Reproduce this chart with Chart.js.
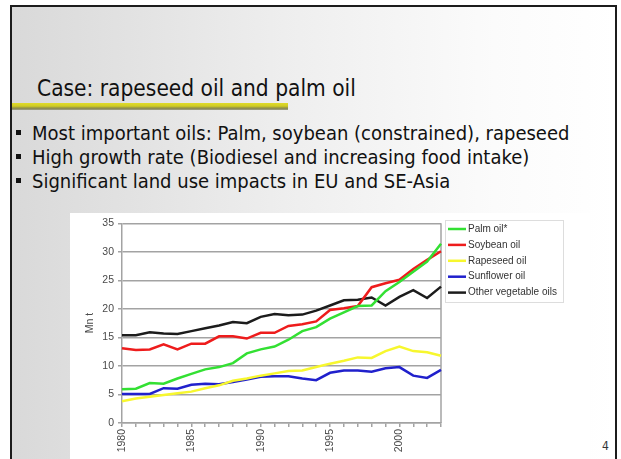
<!DOCTYPE html>
<html>
<head>
<meta charset="utf-8">
<script src="https://cdn.jsdelivr.net/npm/chart.js@4/dist/chart.umd.min.js"></script>
<style>
    html, body { margin: 0; padding: 0; background: #fff; }
    body { width: 621px; height: 459px; position: relative; overflow: hidden; }
    .slide {
        position: absolute; left: 10px; top: 5px; width: 603px; height: 460px;
        border: 2px solid #1c1c1c;
        background: linear-gradient(to right, #d9d9d9 0%, #eeeeee 45%, #fbfbfb 80%, #ffffff 100%);
        font-family: "DejaVu Sans Condensed", "DejaVu Sans", sans-serif;
        color: #111;
    }
    .title { position: absolute; left: 25px; top: 68px; font-size: 22.5px; white-space: nowrap; }
    .bar {
        position: absolute; left: 0; top: 96px; width: 276px; height: 7px;
        background: linear-gradient(to bottom, #e0dc2a 0%, #cfcb25 45%, #8a8a4a 75%, #9fa08c 100%);
    }
    .bullet { position: absolute; left: 20px; font-size: 20px; white-space: nowrap; }
    .bullet:before {
        content: ""; position: absolute; left: -16px; top: 9px; width: 5px; height: 5px; background: #111;
    }
    .pagenum { position: absolute; left: 590px; top: 432px; font-size: 12px; color: #333; }
    #chartWrap { position: absolute; left: 70px; top: 213px; width: 520px; height: 246px; background: #fff; }
</style>
</head>
<body>
<div class="slide">
    <div class="title">Case: rapeseed oil and palm oil</div>
    <div class="bar"></div>
    <div class="bullet" style="top: 114px;">Most important oils: Palm, soybean (constrained), rapeseed</div>
    <div class="bullet" style="top: 138px;">High growth rate (Biodiesel and increasing food intake)</div>
    <div class="bullet" style="top: 162px;">Significant land use impacts in EU and SE-Asia</div>
    <div class="pagenum">4</div>
</div>
<div id="chartWrap"><canvas id="oilChart" width="520" height="246"></canvas></div>

<script>
// Production of vegetable oils, Mn t
const years = ['1980', '1981', '1982', '1983', '1984', '1985', '1986', '1987', '1988', '1989', '1990', '1991',
               '1992', '1993', '1994', '1995', '1996', '1997', '1998', '1999', '2000', '2001', '2002', '2003'];

const palmOil      = [5.9, 6.0, 7.0, 6.9, 7.8, 8.6, 9.4, 9.8, 10.5, 12.2, 12.9, 13.4,
                      14.6, 16.1, 16.8, 18.3, 19.4, 20.5, 20.6, 23.1, 24.7, 26.5, 28.3, 31.4];
const soybeanOil   = [13.1, 12.8, 12.9, 13.8, 12.9, 13.9, 13.9, 15.2, 15.2, 14.8, 15.8, 15.8,
                      17.0, 17.3, 17.8, 19.8, 20.1, 20.5, 23.8, 24.5, 25.1, 27.0, 28.6, 30.1];
const rapeseedOil  = [3.8, 4.3, 4.6, 4.9, 5.2, 5.5, 6.1, 6.6, 7.4, 7.8, 8.3, 8.7,
                      9.1, 9.2, 9.8, 10.4, 10.9, 11.5, 11.4, 12.6, 13.4, 12.6, 12.4, 11.8];
const sunflowerOil = [5.1, 5.1, 5.1, 6.1, 6.0, 6.7, 6.9, 6.8, 7.2, 7.6, 8.1, 8.2,
                      8.2, 7.8, 7.5, 8.8, 9.2, 9.2, 9.0, 9.6, 9.8, 8.3, 7.9, 9.3];
const otherOils    = [15.4, 15.4, 15.9, 15.7, 15.6, 16.1, 16.6, 17.1, 17.7, 17.5, 18.6, 19.1,
                      18.9, 19.0, 19.7, 20.6, 21.5, 21.6, 22.0, 20.6, 22.1, 23.3, 21.9, 23.9];

const seriesNames  = ['Palm oil*', 'Soybean oil', 'Rapeseed oil', 'Sunflower oil', 'Other vegetable oils'];
const seriesColors = ['#33e033', '#ee1c1c', '#f7f72e', '#2020cc', '#1c1c1c'];
const yMin = 0, yMax = 35, yStep = 5;

const axisGrey = '#a3a3a3';
const tickFont = { family: '"Liberation Sans", Arial, sans-serif', size: 10.5 };

// thin frame on the right side of the plot area
const plotFrame = {
    id: 'plotFrame',
    beforeDatasetsDraw: function(chart) {
        const a = chart.chartArea, ctx = chart.ctx;
        ctx.save();
        ctx.strokeStyle = axisGrey;
        ctx.lineWidth = 1.5;
        ctx.beginPath();
        ctx.moveTo(a.right, a.top);
        ctx.lineTo(a.right, a.bottom);
        ctx.stroke();
        ctx.restore();
    }
};

// legend box to the right of the plot, like the Excel original
const boxLegend = {
    id: 'boxLegend',
    afterDraw: function(chart) {
        const ctx = chart.ctx;
        const x = chart.chartArea.right + 4, y = 7, w = 118, h = 82;
        ctx.save();
        ctx.fillStyle = '#fff';
        ctx.fillRect(x, y, w, h);
        ctx.strokeStyle = '#dddddd';
        ctx.lineWidth = 1;
        ctx.strokeRect(x + 0.5, y + 0.5, w, h);
        ctx.font = '10px "Liberation Sans", Arial, sans-serif';
        ctx.textBaseline = 'middle';
        chart.data.datasets.forEach(function(ds, i) {
            const rowY = y + 9 + i * 15.9;
            ctx.strokeStyle = ds.borderColor;
            ctx.lineWidth = 2.5;
            ctx.beginPath();
            ctx.moveTo(x + 3, rowY);
            ctx.lineTo(x + 21, rowY);
            ctx.stroke();
            ctx.fillStyle = '#333';
            ctx.fillText(ds.label, x + 23, rowY);
        });
        ctx.restore();
    }
};

const seriesData = [palmOil, soybeanOil, rapeseedOil, sunflowerOil, otherOils];

new Chart(document.getElementById('oilChart'), {
    type: 'line',
    data: {
        labels: years,
        datasets: seriesData.map(function(values, i) {
            return {
                label: seriesNames[i],
                data: values,
                borderColor: seriesColors[i],
                backgroundColor: seriesColors[i],
                borderWidth: 2.5,
                pointRadius: 0,
                tension: 0
            };
        })
    },
    options: {
        responsive: false,
        animation: false,
        devicePixelRatio: 1,
        layout: { padding: { top: 8, right: 149, left: 0, bottom: 0 } },
        plugins: {
            legend: { display: false },
            tooltip: { enabled: false }
        },
        scales: {
            x: {
                offset: false,
                afterFit: function(scale) { scale.height = 36; },
                grid: { drawOnChartArea: false, drawTicks: true, tickLength: 4, color: axisGrey, lineWidth: 1.5 },
                border: { display: true, color: axisGrey, width: 1.5 },
                ticks: {
                    autoSkip: false,
                    minRotation: 90,
                    maxRotation: 90,
                    padding: 2,
                    color: '#4a4a4a',
                    font: tickFont,
                    callback: function(value, index) {
                        const yr = years[index];
                        return (Number(yr) % 5 === 0) ? yr : '';
                    }
                }
            },
            y: {
                min: yMin,
                max: yMax,
                afterFit: function(scale) { scale.width = 52; },
                grid: { color: axisGrey, lineWidth: 1.5, tickLength: 4 },
                border: { display: true, color: axisGrey, width: 1.5 },
                ticks: { stepSize: yStep, padding: 4, color: '#4a4a4a', font: tickFont },
                title: {
                    display: true,
                    text: 'Mn t',
                    color: '#4a4a4a',
                    font: tickFont,
                    padding: { top: 14, bottom: 0 }
                }
            }
        }
    },
    plugins: [plotFrame, boxLegend]
});
</script>
</body>
</html>
